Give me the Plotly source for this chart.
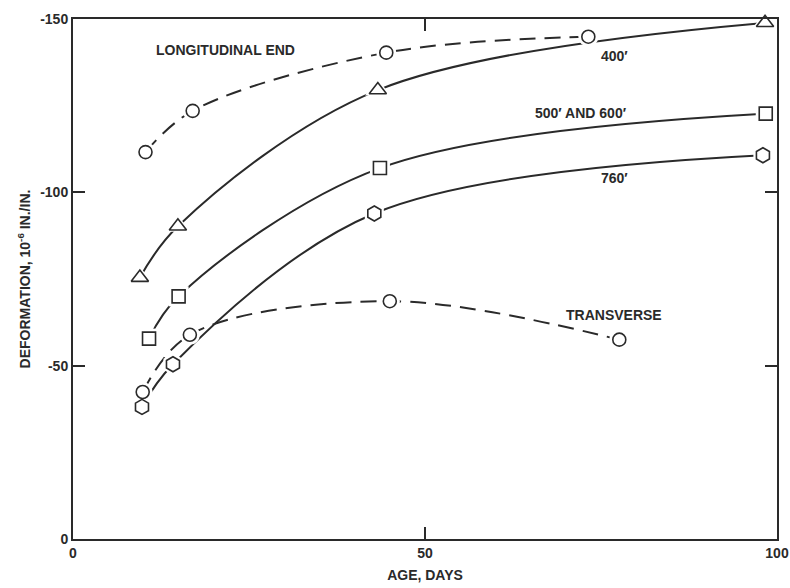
import plotly.graph_objects as go

# Age (days) and deformation (10^-6 in./in.) for each gauge group
long_end_age = [10.3, 17.0, 44.5, 73.2]
long_end_def = [-111.6, -123.5, -140.3, -144.9]

g400_age = [9.5, 14.9, 43.3, 98.3]
g400_def = [-75.4, -90.2, -129.5, -148.9]

g500_600_age = [10.8, 15.0, 43.6, 98.4]
g500_600_def = [-57.8, -70.0, -107.0, -122.7]

g760_age = [9.8, 14.2, 42.8, 98.0]
g760_def = [-38.1, -50.4, -93.9, -110.7]

transverse_age = [9.9, 16.6, 45.0, 77.6]
transverse_def = [-42.4, -58.9, -68.6, -57.5]

x_ticks = [0, 50, 100]
y_ticks = [0, -50, -100, -150]
y_tick_text = ["0", "-50", "-100", "-150"]

INK = "#2a2a2a"
FONT = "Liberation Sans, Arial, sans-serif"

series = [
    (g400_age, g400_def, "triangle-up", 15, "solid"),
    (g500_600_age, g500_600_def, "square", 13, "solid"),
    (g760_age, g760_def, "hexagon", 15, "solid"),
    (transverse_age, transverse_def, "circle", 13, "16px,9px"),
    (long_end_age, long_end_def, "circle", 13, "16px,9px"),
]

fig = go.Figure()

# curves
for xs, ys, symbol, size, dash in series:
    fig.add_trace(go.Scatter(
        x=xs, y=ys, mode="lines",
        line=dict(color=INK, width=2, shape="spline", smoothing=1.0, dash=dash),
        showlegend=False, hoverinfo="skip",
    ))

# white halos so the curves stop short of each symbol
for xs, ys, symbol, size, dash in series:
    fig.add_trace(go.Scatter(
        x=xs, y=ys, mode="markers",
        marker=dict(symbol=symbol, size=size + 7, color="white",
                    line=dict(color="white", width=0)),
        showlegend=False, hoverinfo="skip", cliponaxis=False,
    ))

# open symbols
for xs, ys, symbol, size, dash in series:
    fig.add_trace(go.Scatter(
        x=xs, y=ys, mode="markers",
        marker=dict(symbol=symbol, size=size, color="white",
                    line=dict(color=INK, width=1.6)),
        showlegend=False, cliponaxis=False,
    ))

labels = [
    ("LONGITUDINAL END", 21.6, -141.0),
    ("400′", 76.9, -139.2),
    ("500′ AND 600′", 72.1, -123.0),
    ("760′", 76.9, -104.2),
    ("TRANSVERSE", 76.9, -64.6),
]
for text, lx, ly in labels:
    fig.add_annotation(x=lx, y=ly, text=f"<b>{text}</b>", showarrow=False,
                       font=dict(family=FONT, size=14, color=INK))

fig.update_layout(
    width=790, height=588,
    margin=dict(l=73, r=11, t=11, b=49),
    paper_bgcolor="white", plot_bgcolor="white",
    font=dict(family=FONT, color=INK),
)
fig.update_xaxes(
    range=[0, 100], tickvals=x_ticks, ticktext=[f"<b>{v}</b>" for v in x_ticks],
    showgrid=False, zeroline=False, showline=True, linecolor=INK, linewidth=2,
    mirror="ticks", ticks="inside", ticklen=12, tickwidth=2, tickcolor=INK,
    tickfont=dict(size=14, family=FONT, color=INK), automargin=False,
    title=dict(text="<b>AGE, DAYS</b>", font=dict(size=14, family=FONT, color=INK),
               standoff=10),
)
fig.update_yaxes(
    range=[0, -150], tickvals=y_ticks, ticktext=[f"<b>{t}</b>" for t in y_tick_text],
    showgrid=False, zeroline=False, showline=True, linecolor=INK, linewidth=2,
    mirror="ticks", ticks="inside", ticklen=12, tickwidth=2, tickcolor=INK,
    tickfont=dict(size=14, family=FONT, color=INK),
    title=dict(text="<b>DEFORMATION, 10<sup>-6</sup> IN./IN.</b>",
               font=dict(size=14, family=FONT, color=INK), standoff=6),
)

fig.write_html("out.html")
